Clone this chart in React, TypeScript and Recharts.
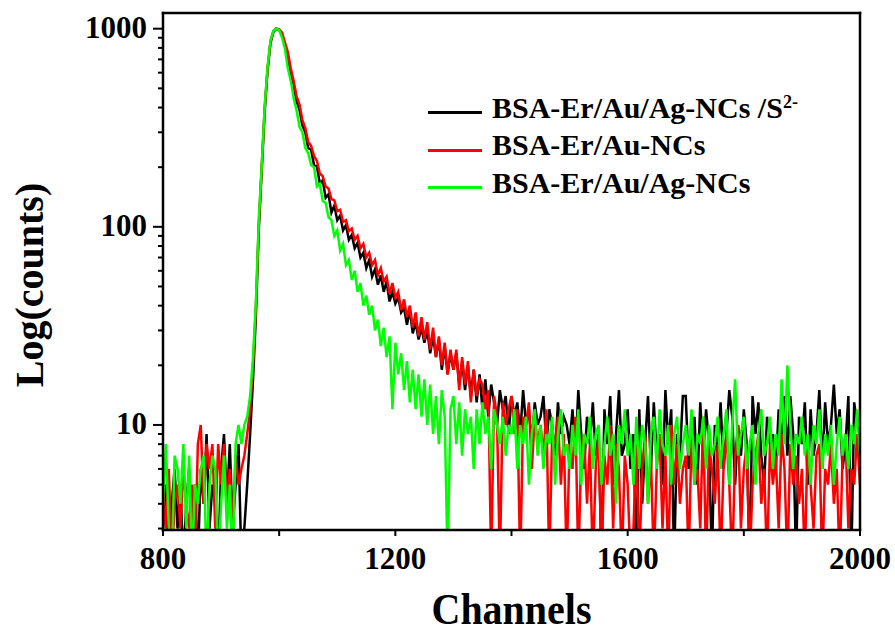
import { LineChart, Line, XAxis, YAxis, Legend } from "recharts";

// channel numbers (every 5th channel of the TCSPC histogram)
const CHANNELS = [
  800, 805, 810, 815, 820, 825, 830, 835, 840, 845,
  850, 855, 860, 865, 870, 875, 880, 885, 890, 895,
  900, 905, 910, 915, 920, 925, 930, 935, 940, 945,
  950, 955, 960, 965, 970, 975, 980, 985, 990, 995,
  1000, 1005, 1010, 1015, 1020, 1025, 1030, 1035, 1040, 1045,
  1050, 1055, 1060, 1065, 1070, 1075, 1080, 1085, 1090, 1095,
  1100, 1105, 1110, 1115, 1120, 1125, 1130, 1135, 1140, 1145,
  1150, 1155, 1160, 1165, 1170, 1175, 1180, 1185, 1190, 1195,
  1200, 1205, 1210, 1215, 1220, 1225, 1230, 1235, 1240, 1245,
  1250, 1255, 1260, 1265, 1270, 1275, 1280, 1285, 1290, 1295,
  1300, 1305, 1310, 1315, 1320, 1325, 1330, 1335, 1340, 1345,
  1350, 1355, 1360, 1365, 1370, 1375, 1380, 1385, 1390, 1395,
  1400, 1405, 1410, 1415, 1420, 1425, 1430, 1435, 1440, 1445,
  1450, 1455, 1460, 1465, 1470, 1475, 1480, 1485, 1490, 1495,
  1500, 1505, 1510, 1515, 1520, 1525, 1530, 1535, 1540, 1545,
  1550, 1555, 1560, 1565, 1570, 1575, 1580, 1585, 1590, 1595,
  1600, 1605, 1610, 1615, 1620, 1625, 1630, 1635, 1640, 1645,
  1650, 1655, 1660, 1665, 1670, 1675, 1680, 1685, 1690, 1695,
  1700, 1705, 1710, 1715, 1720, 1725, 1730, 1735, 1740, 1745,
  1750, 1755, 1760, 1765, 1770, 1775, 1780, 1785, 1790, 1795,
  1800, 1805, 1810, 1815, 1820, 1825, 1830, 1835, 1840, 1845,
  1850, 1855, 1860, 1865, 1870, 1875, 1880, 1885, 1890, 1895,
  1900, 1905, 1910, 1915, 1920, 1925, 1930, 1935, 1940, 1945,
  1950, 1955, 1960, 1965, 1970, 1975, 1980, 1985, 1990, 1995,
  2000,
];

// BSA-Er/Au/Ag-NCs /S2-
const BLACK = [
  3, 5, 2, 4, 6, 3, 5, 2, 4, 6,
  3, 5, 2, 6, 4, 9, 3, 5, 4, 2,
  6, 9, 4, 8, 3, 5, 8, 2, 3, 5,
  9, 17, 36, 98, 195, 380, 615, 845, 962, 1000,
  985, 930, 825, 720, 600, 520, 430, 390, 325, 300,
  250, 245, 205, 202, 165, 172, 140, 146, 118, 128,
  108, 114, 96, 102, 86, 91, 78, 83, 70, 74,
  62, 68, 56, 61, 51, 57, 47, 53, 42, 47,
  41, 44, 37, 39, 32, 38, 29, 33, 27, 31,
  26, 30, 23, 28, 22, 27, 19, 25, 18, 23,
  19, 23, 16, 21, 15, 20, 14, 19, 13, 18,
  12, 17, 11, 16, 13, 10, 15, 12, 14, 9,
  14, 11, 13, 9, 15, 10, 12, 8, 13, 10,
  11, 14, 8, 12, 10, 7, 13, 9, 11, 10,
  8, 12, 7, 15, 9, 6, 11, 8, 13, 7,
  9, 2, 12, 8, 14, 5, 9, 15, 7, 8,
  12, 6, 9, 2, 12, 4, 8, 14, 6, 13,
  7, 9, 5, 15, 8, 12, 2, 9, 7, 14,
  14, 6, 8, 11, 5, 13, 7, 12, 8, 2,
  10, 7, 13, 6, 9, 15, 11, 5, 10, 7,
  12, 8, 2, 14, 9, 13, 7, 5, 11, 8,
  9, 6, 12, 8, 14, 7, 14, 9, 2, 11,
  8, 13, 5, 12, 7, 9, 15, 6, 13, 8,
  10, 16, 9, 12, 6, 8, 14, 2, 13, 10,
  9,
];

// BSA-Er/Au-NCs
const RED = [
  5, 3, 6, 2, 4, 5, 3, 6, 4, 3,
  5, 2, 8, 10, 4, 8, 6, 8, 3, 8,
  5, 8, 4, 6, 3, 7, 5, 6, 7, 9,
  12, 20, 40, 105, 200, 395, 630, 860, 970, 1000,
  995, 955, 850, 760, 630, 545, 455, 415, 345, 315,
  268, 256, 228, 215, 186, 180, 160, 156, 138, 136,
  120, 122, 106, 108, 95, 98, 86, 90, 78, 82,
  70, 74, 64, 68, 57, 62, 53, 56, 46, 52,
  44, 47, 38, 43, 35, 40, 31, 37, 28, 35,
  27, 33, 24, 31, 22, 28, 20, 26, 18, 24,
  19, 24, 15, 22, 16, 21, 13, 19, 14, 17,
  16, 12, 15, 2, 14, 11, 2, 13, 10, 12,
  14, 9, 12, 2, 11, 10, 13, 6, 11, 8,
  10, 7, 12, 2, 9, 8, 11, 5, 9, 2,
  8, 6, 11, 2, 7, 9, 4, 8, 2, 6,
  9, 2, 7, 5, 10, 3, 8, 6, 2, 7,
  5, 2, 3, 8, 2, 6, 9, 4, 7, 2,
  6, 9, 3, 7, 2, 10, 5, 8, 4, 6,
  7, 2, 9, 5, 6, 3, 11, 2, 8, 6,
  4, 8, 2, 6, 9, 5, 2, 7, 10, 3,
  6, 8, 2, 5, 7, 9, 4, 6, 2, 8,
  5, 7, 3, 9, 6, 2, 8, 5, 7, 4,
  6, 2, 9, 5, 3, 7, 8, 2, 6, 5,
  8, 4, 6, 2, 7, 9, 3, 6, 5, 9,
  5,
];

// BSA-Er/Au/Ag-NCs
const GREEN = [
  4, 8, 3, 2, 7, 6, 4, 8, 3, 7,
  2, 5, 4, 6, 7, 2, 5, 7, 6, 2,
  4, 7, 3, 5, 2, 8, 10, 8, 10, 11,
  14, 22, 42, 110, 205, 400, 640, 870, 975, 1000,
  985, 900, 790, 630, 545, 445, 385, 320, 300, 250,
  235, 205, 200, 160, 165, 135, 132, 112, 108, 90,
  96, 76, 82, 64, 68, 54, 60, 47, 52, 40,
  45, 36, 40, 30, 34, 25, 31, 22, 28, 12,
  26, 18, 23, 15, 21, 13, 19, 12, 18, 11,
  17, 10, 16, 9, 14, 8, 15, 11, 2, 12,
  14, 8, 13, 7, 12, 9, 11, 6, 12, 8,
  13, 9, 11, 6, 12, 10, 8, 11, 7, 10,
  9, 12, 6, 10, 8, 11, 5, 9, 12, 7,
  10, 6, 9, 8, 11, 5, 9, 12, 7, 8,
  6, 10, 7, 12, 5, 9, 8, 11, 6, 9,
  10, 5, 8, 11, 7, 9, 4, 10, 8, 12,
  7, 9, 5, 11, 6, 10, 8, 4, 9, 11,
  6, 12, 8, 7, 10, 5, 9, 11, 6, 8,
  10, 7, 12, 5, 9, 8, 11, 6, 10, 7,
  8, 11, 6, 9, 12, 5, 10, 17, 7, 9,
  11, 6, 8, 10, 5, 9, 12, 7, 8, 11,
  6, 9, 7, 17, 8, 20, 10, 6, 9, 8,
  11, 7, 9, 5, 10, 8, 12, 6, 9, 7,
  10, 5, 8, 11, 7, 9, 6, 10, 8, 12,
  7,
];

const X_TICKS = [800, 1000, 1200, 1400, 1600, 1800, 2000];
const Y_TICKS = [
  3, 4, 5, 6, 7, 8, 9, 10,
  20, 30, 40, 50, 60, 70, 80, 90, 100,
  200, 300, 400, 500, 600, 700, 800, 900, 1000,
];
const Y_MAJOR = [10, 100, 1000];

const SERIES = [
  { key: "black", name: "BSA-Er/Au/Ag-NCs /S", sup: "2-", color: "#000000" },
  { key: "red", name: "BSA-Er/Au-NCs", sup: "", color: "#ff0000" },
  { key: "green", name: "BSA-Er/Au/Ag-NCs", sup: "", color: "#00ff00" },
];

const data = CHANNELS.map((ch, i) => ({
  ch,
  black: BLACK[i],
  red: RED[i],
  green: GREEN[i],
}));

const FONT = '"Liberation Serif", "Times New Roman", serif';
const Y_TICK_SIZE = 10;
const Y_TICK_MARGIN = 6;

const XTick = (props: any) => {
  const { x, y, payload } = props;
  if (payload.value % 400 !== 0) return <g />;
  return (
    <text x={x} y={y} dy="0.71em" textAnchor="middle" fontFamily={FONT} fontWeight="bold" fontSize={31} fill="#000">
      {payload.value}
    </text>
  );
};

const YTick = (props: any) => {
  const { x, y, payload } = props;
  const axisX = x + Y_TICK_MARGIN + Y_TICK_SIZE;
  const major = Y_MAJOR.includes(payload.value);
  return (
    <g>
      <line x1={axisX} x2={axisX - (major ? 10 : 5)} y1={y} y2={y} stroke="#000" strokeWidth={2} />
      {major && (
        <text x={x} y={y} dy="0.3em" textAnchor="end" fontFamily={FONT} fontWeight="bold" fontSize={31} fill="#000">
          {payload.value}
        </text>
      )}
    </g>
  );
};

const LegendBox = () => (
  <div style={{ fontFamily: FONT, fontWeight: "bold", fontSize: 30, color: "#000" }}>
    {SERIES.map((s) => (
      <div key={s.key} style={{ display: "flex", alignItems: "center", height: 37.5 }}>
        <div style={{ width: 54, height: 3, background: s.color, marginTop: 10, marginRight: 10 }} />
        <span style={{ whiteSpace: "nowrap", lineHeight: 1 }}>
          {s.name}
          {s.sup && <sup style={{ fontSize: 18, verticalAlign: "0.55em" }}>{s.sup}</sup>}
        </span>
      </div>
    ))}
  </div>
);

export default function App() {
  return (
    <div style={{ position: "absolute", left: 0, top: 0, width: 895, height: 635, background: "#fff" }}>
      <LineChart width={895} height={635} data={data} margin={{ top: 0, right: 0, bottom: 0, left: 0 }}>
        <XAxis
          dataKey="ch"
          type="number"
          domain={[800, 2000]}
          ticks={X_TICKS}
          interval={0}
          height={105}
          tickSize={6}
          tickMargin={11}
          axisLine={{ stroke: "#000", strokeWidth: 2.5, strokeLinecap: "square" }}
          tickLine={{ stroke: "#000", strokeWidth: 2 }}
          tick={<XTick />}
          allowDataOverflow
          label={{
            content: (p: any) => (
              <text
                transform={`translate(${p.viewBox.x + p.viewBox.width / 2}, 624) scale(1, 1.1)`}
                textAnchor="middle"
                fontFamily={FONT}
                fontWeight="bold"
                fontSize={40}
                fill="#000"
              >
                Channels
              </text>
            ),
          }}
        />
        <XAxis
          xAxisId="top"
          orientation="top"
          dataKey="ch"
          type="number"
          domain={[800, 2000]}
          ticks={X_TICKS}
          interval={0}
          height={13}
          tickSize={2}
          axisLine={{ stroke: "#000", strokeWidth: 2.5, strokeLinecap: "square" }}
          tickLine={{ stroke: "#000", strokeWidth: 1.5 }}
          tick={false}
          allowDataOverflow
        />
        <YAxis
          scale="log"
          type="number"
          domain={[2.95, 1200]}
          ticks={Y_TICKS}
          interval={0}
          width={163}
          tickSize={Y_TICK_SIZE}
          tickMargin={Y_TICK_MARGIN}
          axisLine={{ stroke: "#000", strokeWidth: 2.5, strokeLinecap: "square" }}
          tickLine={false}
          tick={<YTick />}
          allowDataOverflow
          label={{
            content: () => (
              <text
                x={43}
                y={285}
                transform="rotate(-90, 43, 285)"
                textAnchor="middle"
                fontFamily={FONT}
                fontWeight="bold"
                fontSize={40}
                fill="#000"
              >
                Log(counts)
              </text>
            ),
          }}
        />
        <YAxis
          yAxisId="right"
          orientation="right"
          scale="log"
          type="number"
          domain={[2.95, 1200]}
          ticks={Y_TICKS}
          interval={0}
          width={35}
          tickSize={2}
          axisLine={{ stroke: "#000", strokeWidth: 2.5, strokeLinecap: "square" }}
          tickLine={{ stroke: "#000", strokeWidth: 1.5 }}
          tick={false}
          allowDataOverflow
        />
        <Legend
          layout="vertical"
          align="center"
          verticalAlign="middle"
          wrapperStyle={{ left: 428, top: 89, width: 420 }}
          content={<LegendBox />}
        />
        {SERIES.map((s) => (
          <Line
            key={s.key}
            dataKey={s.key}
            name={s.name}
            type="linear"
            stroke={s.color}
            strokeWidth={2.5}
            dot={false}
            activeDot={false}
            isAnimationActive={false}
          />
        ))}
      </LineChart>
    </div>
  );
}
